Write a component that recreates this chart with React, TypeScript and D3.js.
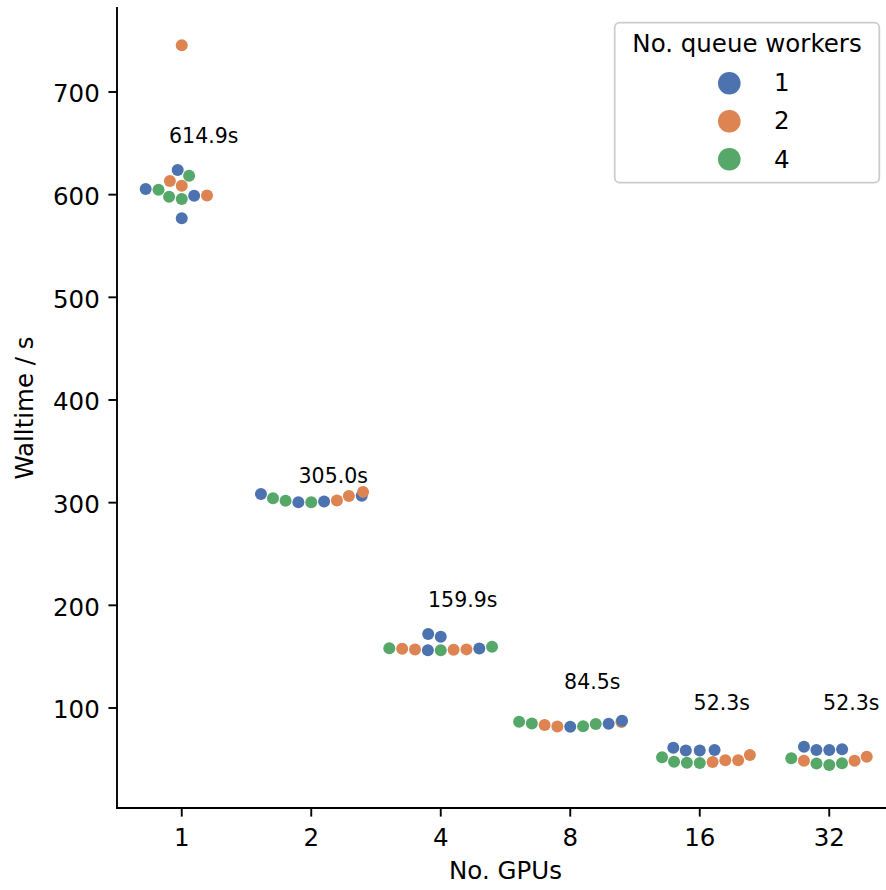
import React from "react";
import * as d3 from "d3";

// ---------- data ----------
const gpuCounts = ["1", "2", "4", "8", "16", "32"];
const workerLevels = ["1", "2", "4"];
const workerColors = ["#4C72B0", "#DD8452", "#55A868"];

// walltime (s) per GPU count, for each number of queue workers
const walltime1Worker = [
  [624, 605.5, 599, 577],
  [300.5, 301.2, 306.8, 308.5],
  [156.3, 169.4, 172.1, 158.0],
  [81.8, 84.7, 87.6],
  [61.3, 58.5, 58.5, 59.1],
  [62.3, 59.1, 59.1, 59.8],
];
const walltime2Workers = [
  [745.5, 613.3, 608.7, 599.2],
  [302.0, 306.4, 310.5],
  [156.7, 156.9, 157.1, 157.6],
  [82.0, 83.4, 86.4],
  [47.3, 49.1, 49.2, 54.2],
  [48.7, 48.7, 52.6],
];
const walltime4Workers = [
  [618.5, 604.8, 598, 595.8],
  [304.3, 301.8, 300.3],
  [156.2, 158.3, 159.7],
  [82.3, 84.5, 85.0, 86.7],
  [52.0, 47.7, 46.5, 46.6],
  [51.0, 46.0, 44.5, 46.2],
];
const meanWalltime = [614.9, 305.0, 159.9, 84.5, 52.3, 52.3];
const meanLabelHeight = [650.6, 318.9, 198.6, 118.8, 98.3, 98.3];
const yTicks = [100, 200, 300, 400, 500, 600, 700];

// ---------- layout ----------
const W = 886;
const H = 890;
const left = 117;
const right = 894;
const top = 8;
const bottom = 808;
const FONT = "DejaVu Sans";
const MR = 6.13; // marker radius used by the swarm layout

const xScale = d3.scalePoint<string>().domain(gpuCounts).range([left, right]).padding(0.5);
const yScale = d3.scaleLinear().domain([2.6, 781.8]).range([bottom, top]);

type Pt = { v: number; c: number };
type Placed = { i: number; x: number; y: number; r: number; c: number; v: number };

// seaborn-style beeswarm (in pixel space)
function beeswarm(points: Pt[], cx: number, halfWidth: number): Placed[] {
  const orig: Placed[] = points.map((p, i) => ({ i, x: cx, y: -yScale(p.v), r: MR, c: p.c, v: p.v }));
  const sorted = orig.slice().sort((a, b) => a.y - b.y || a.i - b.i);
  const swarm: Placed[] = [];
  sorted.forEach((p, k) => {
    if (k === 0) {
      swarm.push({ ...p });
      return;
    }
    const neighbors: Placed[] = [];
    for (let j = swarm.length - 1; j >= 0; j--) {
      if (p.y - swarm[j].y < p.r + swarm[j].r) neighbors.push(swarm[j]);
      else break;
    }
    const cands: number[] = [p.x];
    let leftFirst = true;
    for (const n of neighbors) {
      const dy = p.y - n.y;
      const dx = Math.sqrt(Math.max((p.r + n.r) ** 2 - dy * dy, 0)) * 1.05;
      const cl = n.x - dx;
      const cr = n.x + dx;
      if (leftFirst) cands.push(cl, cr);
      else cands.push(cr, cl);
      leftFirst = !leftFirst;
    }
    const ordered = cands
      .map((x, idx) => ({ x, idx }))
      .sort((a, b) => {
        const d = Math.abs(a.x - cx) - Math.abs(b.x - cx);
        if (Math.abs(d) > 1e-9) return d;
        return a.idx - b.idx;
      });
    let chosen = ordered[0].x;
    if (neighbors.length) {
      for (const c of ordered) {
        if (neighbors.every((n) => (n.x - c.x) ** 2 + (n.y - p.y) ** 2 >= (n.r + p.r) ** 2)) {
          chosen = c.x;
          break;
        }
      }
    }
    swarm.push({ ...p, x: chosen });
  });
  const out: Placed[] = new Array(points.length);
  swarm.forEach((p) => {
    const x = Math.max(cx - halfWidth, Math.min(cx + halfWidth, p.x));
    out[p.i] = { ...p, x, y: -p.y };
  });
  return out;
}

export default function App() {
  const step = xScale.step();
  const halfWidth = 0.4 * step;
  const series = [walltime1Worker, walltime2Workers, walltime4Workers];

  const allPoints: Placed[] = [];
  gpuCounts.forEach((g, gi) => {
    const pts: Pt[] = [];
    series.forEach((s, c) => s[gi].forEach((v) => pts.push({ v, c })));
    allPoints.push(...beeswarm(pts, xScale(g)!, halfWidth));
  });
  const drawOrder = allPoints.slice().sort((a, b) => a.v - b.v);

  const tickLen = 8.6;
  return (
    <svg width={W} height={H} style={{ display: "block", position: "absolute", left: 0, top: 0 }} fontFamily={FONT}>
      <rect width={W} height={H} fill="#ffffff" />
      {/* points */}
      {drawOrder.map((p, k) => (
        <circle key={k} cx={p.x} cy={p.y} r={6.0} fill={workerColors[p.c]} />
      ))}
      {/* mean labels */}
      {gpuCounts.map((g, gi) => (
        <text
          key={g}
          x={xScale(g)! + 0.17 * step}
          y={yScale(meanLabelHeight[gi])}
          fontSize={20.5}
          textAnchor="middle"
          fill="#000"
        >
          {meanWalltime[gi].toFixed(1) + "s"}
        </text>
      ))}
      {/* axes */}
      <line x1={left} x2={left} y1={top} y2={bottom} stroke="#000" strokeWidth={1.9} strokeLinecap="square" />
      <line x1={left} x2={W} y1={bottom} y2={bottom} stroke="#000" strokeWidth={1.9} strokeLinecap="square" />
      {yTicks.map((t) => (
        <g key={t}>
          <line x1={left - tickLen} x2={left} y1={yScale(t)} y2={yScale(t)} stroke="#000" strokeWidth={1.9} />
          <text x={left - 2 * tickLen} y={yScale(t) + 10.3} fontSize={24.5} textAnchor="end" fill="#000">
            {t}
          </text>
        </g>
      ))}
      {gpuCounts.map((g) => (
        <g key={g}>
          <line x1={xScale(g)} x2={xScale(g)} y1={bottom} y2={bottom + tickLen} stroke="#000" strokeWidth={1.9} />
          <text x={xScale(g)} y={846} fontSize={24.5} textAnchor="middle" fill="#000">
            {g}
          </text>
        </g>
      ))}
      <text x={(left + right) / 2} y={879} fontSize={24.5} textAnchor="middle" fill="#000">
        No. GPUs
      </text>
      <text
        transform={`translate(33, ${(top + bottom) / 2}) rotate(-90)`}
        fontSize={24.5}
        textAnchor="middle"
        fill="#000"
      >
        Walltime / s
      </text>
      {/* legend */}
      <g>
        <rect x={614.7} y={22.7} width={264.6} height={160} rx={5} fill="#ffffff" fillOpacity={0.8} stroke="#cccccc" strokeWidth={1.8} />
        <text x={747} y={52} fontSize={24.5} textAnchor="middle" fill="#000">
          No. queue workers
        </text>
        {workerLevels.map((w, i) => (
          <g key={w}>
            <circle cx={729.3} cy={83.3 + i * 38} r={11.3} fill={workerColors[i]} />
            <text x={774} y={91 + i * 38.3} fontSize={24.5} fill="#000">
              {w}
            </text>
          </g>
        ))}
      </g>
    </svg>
  );
}
